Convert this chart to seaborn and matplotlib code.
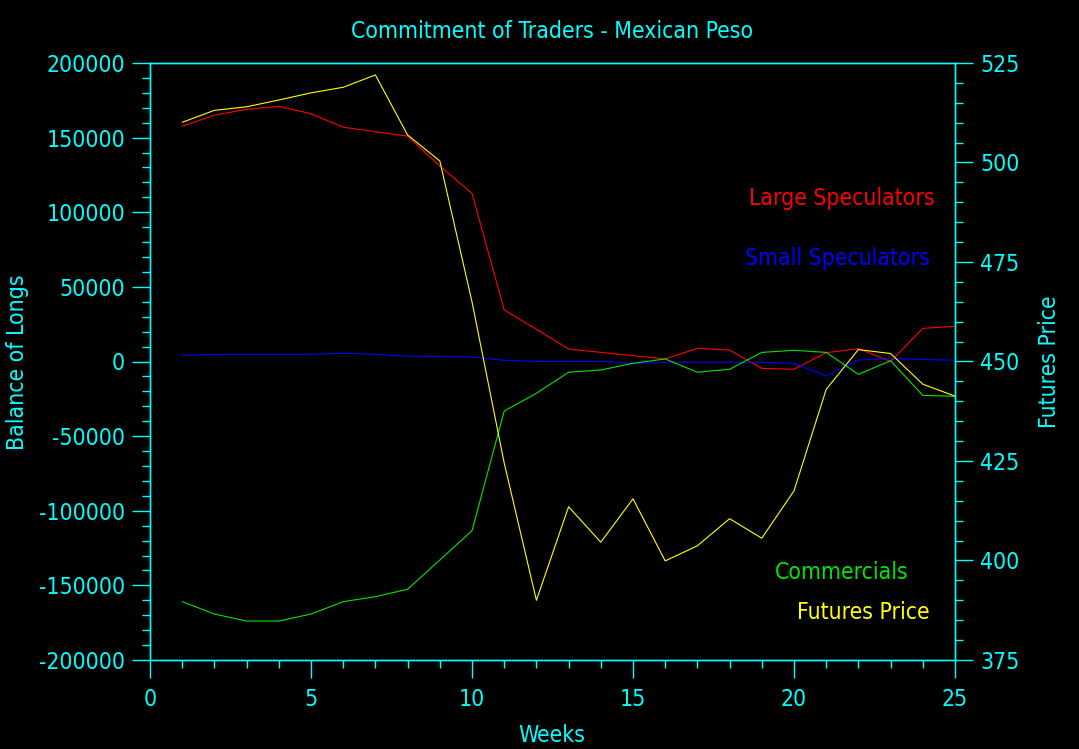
"""
Commitment of Traders - Mexican Peso, recriado com seaborn.
"""
import matplotlib
matplotlib.use("Agg")
import matplotlib.pyplot as plt
import seaborn as sns
import pandas as pd
from matplotlib.ticker import MultipleLocator

# Dados
semanas = list(range(1, 26))
large_spec = [157600, 165000, 169000, 171000, 166000, 157000, 154000, 151000,
              131000, 112700, 34500, 21600, 8400, 6100, 3900, 1700, 8800, 7700,
              -4600, -5200, 5900, 8600, 0, 22200, 23600]
small_spec = [4100, 4800, 4800, 4800, 4800, 5500, 4800, 3500, 3500, 3000, 800,
              100, 100, 100, -1200, -500, -500, -500, -500, -1200, -9700, 1000,
              1900, 1400, 800]
commercials = [-160900, -169200, -173900, -173900, -169200, -160900, -157600,
               -152600, -133000, -113400, -33200, -21300, -7200, -5700, -1200,
               1700, -7200, -5200, 6100, 7500, 6100, -8600, 500, -22700, -23300]
futures_price = [510.1, 513.1, 514.0, 515.7, 517.5, 518.9, 522.0, 506.9, 500.4,
                 465.0, 424.5, 390.0, 413.5, 404.6, 415.5, 399.9, 403.7, 410.5,
                 405.6, 417.5, 443.0, 453.0, 452.0, 444.3, 441.3]

df = pd.DataFrame({
    "semana": semanas,
    "large": large_spec,
    "small": small_spec,
    "comm": commercials,
    "preco": futures_price,
})

CIANO = "#00FFFF"
VERMELHO = "#FF0000"
AZUL = "#0000FF"
VERDE = "#00E600"
AMARELO = "#FFFF00"

sns.set_style("dark", {"axes.facecolor": "black", "figure.facecolor": "black"})
plt.rcParams["font.family"] = ["DejaVu Sans"]
plt.rcParams["font.stretch"] = "condensed"
plt.rcParams["axes.unicode_minus"] = False

fig = plt.figure(figsize=(10.79, 7.49), dpi=100)
ax = fig.add_axes([150 / 1079, 1 - 660 / 749, 805 / 1079, 597 / 749])
ax2 = ax.twinx()

lw = 0.8
sns.lineplot(data=df, x="semana", y="large", ax=ax, color=VERMELHO, linewidth=lw)
sns.lineplot(data=df, x="semana", y="small", ax=ax, color=AZUL, linewidth=lw)
sns.lineplot(data=df, x="semana", y="comm", ax=ax, color=VERDE, linewidth=lw)
sns.lineplot(data=df, x="semana", y="preco", ax=ax2, color=AMARELO, linewidth=lw)

ax.set_xlim(0, 25)
ax.set_ylim(-200000, 200000)
ax2.set_ylim(375, 525)

ax.xaxis.set_major_locator(MultipleLocator(5))
ax.xaxis.set_minor_locator(MultipleLocator(1))
ax.yaxis.set_major_locator(MultipleLocator(50000))
ax.yaxis.set_minor_locator(MultipleLocator(10000))
ax2.yaxis.set_major_locator(MultipleLocator(25))
ax2.yaxis.set_minor_locator(MultipleLocator(5))

fs = 16.5
for a in (ax, ax2):
    a.grid(False)
    for s in a.spines.values():
        s.set_color(CIANO)
        s.set_linewidth(1.0)
        s.set_visible(True)
    a.tick_params(which="major", length=13, width=1.0, color=CIANO,
                  labelcolor=CIANO, labelsize=fs, direction="out")
    a.tick_params(which="minor", length=6, width=1.0, color=CIANO, direction="out")
    a.set_facecolor("none")

ax.tick_params(axis="y", which="both", left=True, right=False, pad=5)
ax.tick_params(axis="x", which="both", bottom=True, top=False, pad=7)
ax2.tick_params(axis="y", which="both", right=True, left=False, pad=5)
ax.set_facecolor("black")

ax.set_xlabel("")
ax.set_ylabel("")
ax2.set_ylabel("")
fig.text(552 / 1079, 1 - 736 / 749, "Weeks", color=CIANO, fontsize=fs,
         ha="center", va="center")
fig.text(18 / 1079, 1 - 362 / 749, "Balance of Longs", color=CIANO, fontsize=fs,
         ha="center", va="center", rotation=90)
fig.text(1050 / 1079, 1 - 362 / 749, "Futures Price", color=CIANO, fontsize=fs,
         ha="center", va="center", rotation=90)
fig.text(552 / 1079, 1 - 32 / 749, "Commitment of Traders - Mexican Peso",
         color=CIANO, fontsize=fs, ha="center", va="center")

# Rótulos das séries
ax.text(0.975, 0.773, "Large Speculators", color=VERMELHO, fontsize=fs,
        ha="right", va="center", transform=ax.transAxes)
ax.text(0.969, 0.672, "Small Speculators", color=AZUL, fontsize=fs,
        ha="right", va="center", transform=ax.transAxes)
ax.text(0.943, 0.147, "Commercials", color=VERDE, fontsize=fs,
        ha="right", va="center", transform=ax.transAxes)
ax.text(0.968, 0.080, "Futures Price", color=AMARELO, fontsize=fs,
        ha="right", va="center", transform=ax.transAxes)

fig.savefig("out.png", dpi=100, facecolor="black")
